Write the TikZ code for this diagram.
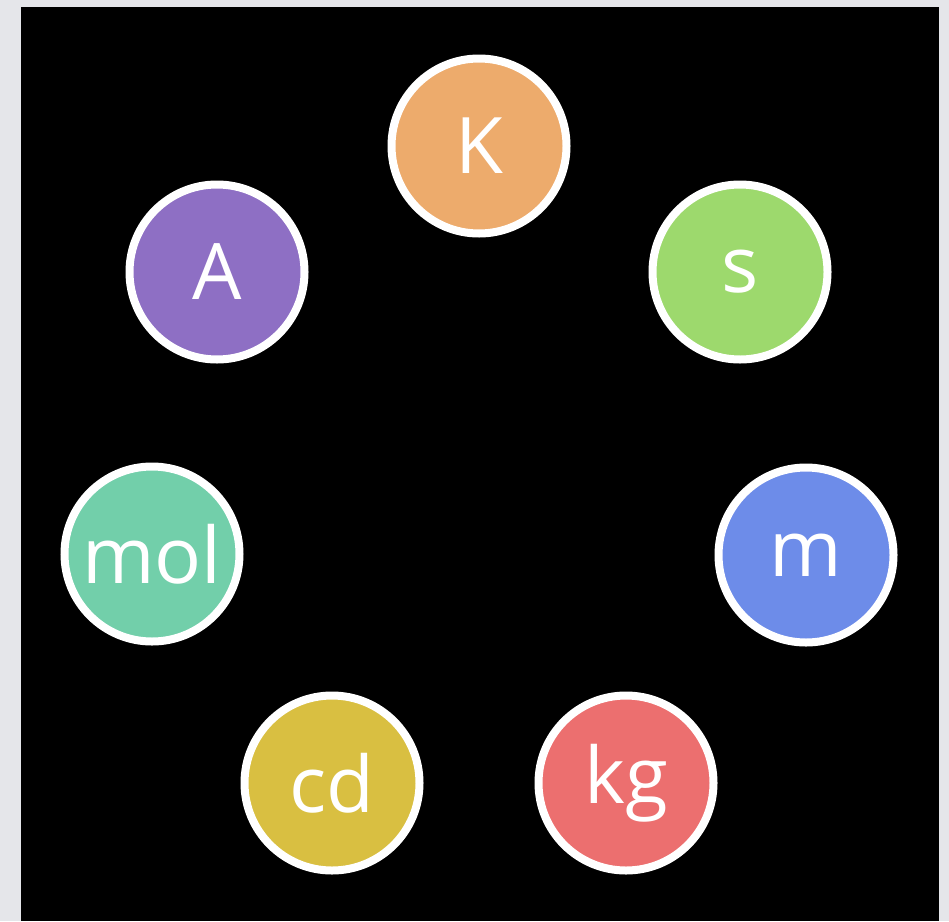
\documentclass[tikz,border=0pt]{standalone}
\usepackage{fontspec}
\setmainfont{Open Sans}
\definecolor{bgout}{HTML}{E5E6EA}
\definecolor{cK}{HTML}{EDAB6C}
\definecolor{cS}{HTML}{9DD96D}
\definecolor{cA}{HTML}{8E6FC4}
\definecolor{cMol}{HTML}{72CFAA}
\definecolor{cM}{HTML}{6D8CE9}
\definecolor{cKg}{HTML}{EC6F6F}
\definecolor{cCd}{HTML}{D9BF41}
\tikzset{
  unit/.style={circle, draw=white, line width=8pt, minimum size=175pt, inner sep=0pt,
    text=white, font=\fontsize{78}{78}\selectfont}
}
\begin{document}
\begin{tikzpicture}[x=1pt,y=-1pt]
\useasboundingbox (0,0) rectangle (949,921);
\fill[bgout] (0,0) rectangle (949,921);
\fill[black] (21,7) rectangle (939,921);
\node[unit, fill=cK]   (K)   at (479,146) {K};
\node[unit, fill=cS]   (s)   at (740,272) {s};
\node[unit, fill=cM]   (m)   at (806,555) {m};
\node[unit, fill=cKg]  (kg)  at (626,783) {kg};
\node[unit, fill=cCd]  (cd)  at (332,783) {cd};
\node[unit, fill=cMol] (mol) at (152,554) {mol};
\node[unit, fill=cA]   (A)   at (217,272) {A};
\end{tikzpicture}
\end{document}
